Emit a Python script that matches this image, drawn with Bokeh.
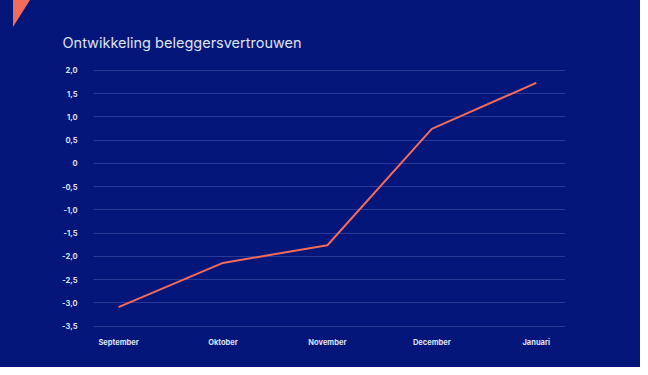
from bokeh.plotting import figure
from bokeh.models import Range1d, FixedTicker, Div
from bokeh.layouts import column
from bokeh.embed import file_html
from bokeh.resources import INLINE

months = ["September", "Oktober", "November", "December", "Januari"]
confidence = [-3.09, -2.14, -1.76, 0.74, 1.73]
y_ticks = [2.0, 1.5, 1.0, 0.5, 0.0, -0.5, -1.0, -1.5, -2.0, -2.5, -3.0, -3.5]
y_tick_labels = ["2,0", "1,5", "1,0", "0,5", "0", "-0,5", "-1,0", "-1,5", "-2,0", "-2,5", "-3,0", "-3,5"]

BG = "#041679"
TXT = "#dfe3f4"
ACCENT = "#f26b5b"

xs = list(range(len(months)))

fig = figure(width=640, height=367, output_backend="svg", toolbar_location=None,
             x_range=Range1d(-0.24, 4.28), y_range=Range1d(-3.70, 2.21),
             min_border_left=93, min_border_right=75, min_border_top=60, min_border_bottom=32)
fig.background_fill_color = None
fig.border_fill_color = None
fig.outline_line_color = None

fig.title.text = "Ontwikkeling beleggersvertrouwen"
fig.title.text_font = "Inter"
fig.title.text_font_size = "14.5px"
fig.title.text_font_style = "normal"
fig.title.text_color = TXT
fig.title.align = "left"
fig.title.offset = -31
fig.title.standoff = 19

fig.line(xs, confidence, line_color=ACCENT, line_width=2)

fig.xaxis.ticker = FixedTicker(ticks=xs)
fig.xaxis.major_label_overrides = {i: m for i, m in enumerate(months)}
fig.yaxis.ticker = FixedTicker(ticks=y_ticks)
fig.yaxis.major_label_overrides = {t: l for t, l in zip(y_ticks, y_tick_labels)}

for ax in (fig.xaxis, fig.yaxis):
    ax.axis_line_color = None
    ax.major_tick_line_color = None
    ax.minor_tick_line_color = None
    ax.major_tick_out = 0
    ax.major_tick_in = 0
    ax.major_label_text_color = TXT
    ax.major_label_text_font = "Inter"
    ax.major_label_text_font_size = "7.5px"
    ax.major_label_text_font_style = "bold"
fig.yaxis.major_label_standoff = 16
fig.xaxis.major_label_standoff = 2

fig.xgrid.grid_line_color = None
fig.ygrid.grid_line_color = "#3445a0"
fig.ygrid.grid_line_width = 1
fig.ygrid.grid_line_alpha = 0.75

corner = Div(text="", width=17, height=27,
             styles={"position": "absolute", "left": "8px", "top": "-5px",
                     "background-color": ACCENT,
                     "clip-path": "polygon(0 0, 100% 0, 0 100%)"})

p = column(fig, corner, width=640, height=367,
           styles={"background-color": BG, "position": "relative"})

open("out.html", "w").write(file_html(p, INLINE))
